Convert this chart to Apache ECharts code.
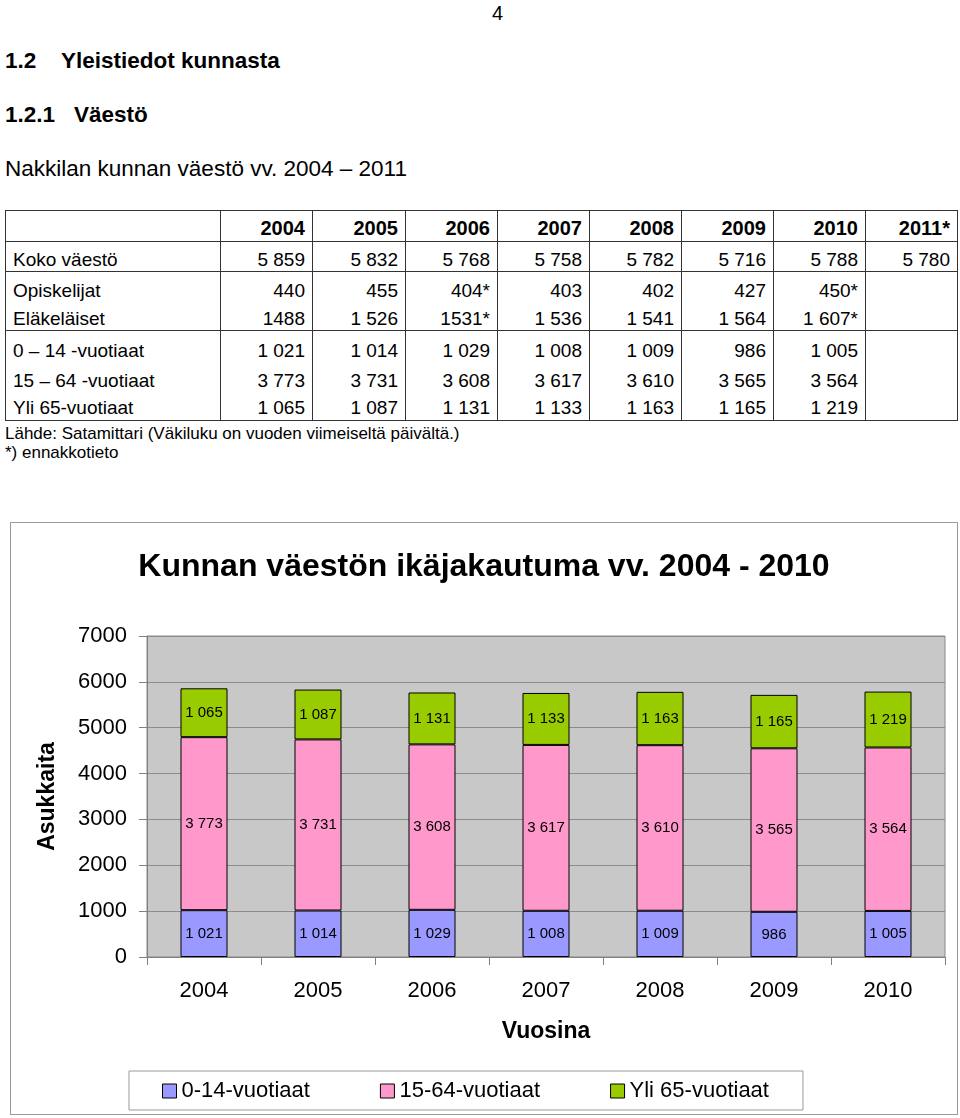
<!DOCTYPE html>
<html><head><meta charset="utf-8">
<script src="https://cdn.jsdelivr.net/npm/echarts@6/dist/echarts.min.js"></script>
<style>
html,body{margin:0;padding:0;background:#fff;}
body{font-family:"Liberation Sans",Arial,sans-serif;color:#000;width:960px;height:1118px;position:relative;overflow:hidden;}
.t{position:absolute;white-space:nowrap;line-height:1;}
.b{font-weight:bold;}
#tbl{position:absolute;left:5px;top:210px;width:952px;border-collapse:collapse;table-layout:fixed;border:1px solid #333;font-size:19px;}
#tbl td{box-sizing:border-box;border-left:1px solid #333;border-right:1px solid #333;padding:0 7px 1px 7px;vertical-align:bottom;line-height:1;text-align:right;white-space:nowrap;overflow:hidden;}
#tbl td.l{text-align:left;}
#tbl tr.sep td{border-bottom:1px solid #333;}
#tbl tr.hd td{font-weight:bold;font-size:20px;}
#chart{position:absolute;left:10px;top:522px;width:946px;height:591px;border:1px solid #999;}
</style></head>
<body>
<div class="t" style="left:492px;top:3px;font-size:20px;">4</div>
<div class="t b" style="left:5px;top:50px;font-size:22.5px;">1.2</div>
<div class="t b" style="left:61px;top:50px;font-size:22.5px;">Yleistiedot kunnasta</div>
<div class="t b" style="left:5px;top:104px;font-size:22.5px;">1.2.1</div>
<div class="t b" style="left:74px;top:104px;font-size:22.5px;">Väestö</div>
<div class="t" style="left:5px;top:158px;font-size:22.5px;">Nakkilan kunnan väestö vv. 2004 – 2011</div>
<table id="tbl"></table>
<div class="t" style="left:5px;top:425px;font-size:17px;">Lähde: Satamittari (Väkiluku on vuoden viimeiseltä päivältä.)</div>
<div class="t" style="left:5px;top:444px;font-size:17px;">*) ennakkotieto</div>
<div id="chart"></div>
<script>
// ---- data ----
const tableYears = ['2004','2005','2006','2007','2008','2009','2010','2011*'];
const kokoVaesto = ['5 859','5 832','5 768','5 758','5 782','5 716','5 788','5 780'];
const opiskelijat = ['440','455','404*','403','402','427','450*',''];
const elakelaiset = ['1488','1 526','1531*','1 536','1 541','1 564','1 607*',''];
const years = ['2004','2005','2006','2007','2008','2009','2010'];
const age0_14 = [1021,1014,1029,1008,1009,986,1005];
const age15_64 = [3773,3731,3608,3617,3610,3565,3564];
const age65plus = [1065,1087,1131,1133,1163,1165,1219];
const seriesNames = ['0-14-vuotiaat','15-64-vuotiaat','Yli 65-vuotiaat'];
const seriesColors = ['#9999FF','#FF99CC','#99CC00'];
const yMin = 0, yMax = 7000, yStep = 1000;

const fmt = v => String(v).replace(/\B(?=(\d{3})+(?!\d))/g,' ');

// ---- table ----
const colW = [215,92,93,92,92,92,92,92,92];
const rows = [
  {label:'', vals:tableYears, cls:'hd sep', h:31, pb:3},
  {label:'Koko väestö', vals:kokoVaesto, cls:'sep', h:30, pb:2},
  {label:'Opiskelijat', vals:opiskelijat, cls:'', h:30, pb:2},
  {label:'Eläkeläiset', vals:elakelaiset, cls:'sep', h:29, pb:2},
  {label:'0 – 14 -vuotiaat', vals:age0_14.map(fmt).concat(['']), cls:'', h:30, pb:1},
  {label:'15 – 64 -vuotiaat', vals:age15_64.map(fmt).concat(['']), cls:'', h:30, pb:1},
  {label:'Yli 65-vuotiaat', vals:age65plus.map(fmt).concat(['']), cls:'', h:30, pb:3}
];
const tbl = document.getElementById('tbl');
let html = '<colgroup>' + colW.map(w=>'<col style="width:'+w+'px">').join('') + '</colgroup>';
rows.forEach(r=>{
  const st = 'height:'+r.h+'px;padding-bottom:'+r.pb+'px;';
  html += '<tr class="'+r.cls+'"><td class="l" style="'+st+'">'+r.label+'</td>' +
    r.vals.map(v=>'<td style="'+st+'">'+v+'</td>').join('') + '</tr>';
});
tbl.innerHTML = html;

// ---- chart ----
const FONT = '"Liberation Sans", Arial, sans-serif';
const chart = echarts.init(document.getElementById('chart'));
const dataSets = [age0_14, age15_64, age65plus];
chart.setOption({
  animation:false,
  textStyle:{fontFamily:FONT},
  title:{text:'Kunnan väestön ikäjakautuma vv. 2004 - 2010', left:'center', top:23,
    textStyle:{fontSize:32, fontWeight:'bold', color:'#000', fontFamily:FONT}},
  grid:{left:136, top:113, width:798, height:321, show:true, backgroundColor:'#c8c8c8',
    borderColor:'#888', borderWidth:1},
  legend:{left:118, top:548, padding:[9,34,8,33], itemGap:70, itemWidth:14, itemHeight:14,
    borderColor:'#999', borderWidth:1, icon:'rect', data:seriesNames,
    itemStyle:{borderColor:'#000', borderWidth:1},
    textStyle:{fontSize:22, color:'#000', fontFamily:FONT}},
  xAxis:{type:'category', data:years,
    axisLine:{lineStyle:{color:'#808080'}},
    axisTick:{show:true, length:8, lineStyle:{color:'#808080'}},
    axisLabel:{fontSize:22, color:'#000', margin:23, fontFamily:FONT},
    name:'Vuosina', nameLocation:'middle', nameGap:63,
    nameTextStyle:{fontSize:23, fontWeight:'bold', color:'#000', fontFamily:FONT}},
  yAxis:{type:'value', min:yMin, max:yMax, interval:yStep,
    axisLine:{show:true, lineStyle:{color:'#808080'}},
    axisTick:{show:true, length:8, lineStyle:{color:'#808080'}},
    axisLabel:{fontSize:22, color:'#000', margin:20, fontFamily:FONT, formatter:v=>String(v)},
    splitLine:{lineStyle:{color:'#8c8c8c'}},
    name:'Asukkaita', nameLocation:'middle', nameGap:88, nameRotate:90,
    nameTextStyle:{fontSize:23, fontWeight:'bold', color:'#000', fontFamily:FONT}},
  series: seriesNames.map((n,i)=>({
    name:n, type:'bar', stack:'total', barWidth:47, data:dataSets[i],
    itemStyle:{color:seriesColors[i], borderColor:'#000', borderWidth:1},
    label:{show:true, position:'inside', fontSize:15, color:'#000', textBorderWidth:0,
      fontFamily:FONT, formatter:p=>fmt(p.value)}
  }))
});
</script>
</body></html>
